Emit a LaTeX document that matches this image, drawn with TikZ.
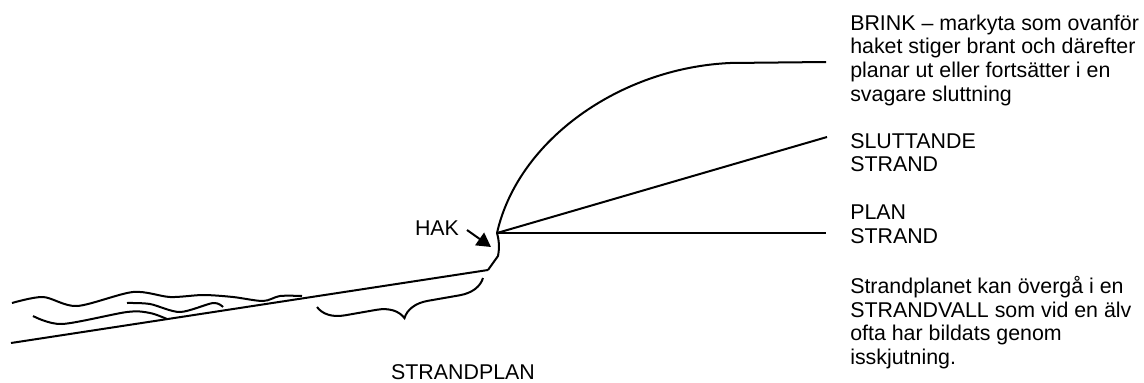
\documentclass[tikz,border=0pt]{standalone}
\usepackage{fontspec}
\setmainfont{Liberation Sans}
\usetikzlibrary{arrows.meta,decorations.pathreplacing}

\begin{document}
\begin{tikzpicture}[x=0.025cm,y=-0.025cm,
		strand/.style={line width=0.5mm},
		etikett/.style={font=\fontsize{15.2pt}{16.8pt}\selectfont, align=left, inner sep=0pt},
		pil/.style={line width=0.5mm, -{Triangle[length=0.35cm,width=0.38cm]}}]
			%%%%% START %%%%%
			\useasboundingbox (0,0) rectangle (1144,382);
			
			\coordinate (hav) at (11,343);
			\coordinate (fot) at (488,270);
			\coordinate (hak) at (497,233);
			\coordinate (brinkslut) at (826,62);
			\coordinate (sluttslut) at (827,137);
			\coordinate (planslut) at (826,233);
			
			\draw[strand] (hav) -- (fot);
			\draw[strand] (fot) -- (498,256) to[out=80,in=-75] (hak);
			\draw[strand] (hak) .. controls (518,140) and (620,68) .. (730,63) -- (brinkslut);
			\draw[strand] (hak) -- (sluttslut);
			\draw[strand] (hak) -- (planslut);
			
			\draw[strand] plot[smooth] coordinates {(12,303) (43,297) (77,306) (133,292) (170,297) (203,295) (233,297) (263,301) (280,296) (302,296)};
			\draw[strand] plot[smooth] coordinates {(127,303) (150,304) (180,312) (213,303) (223,307)};
			\draw[strand] plot[smooth] coordinates {(33,316) (62,324) (127,312) (150,313) (167,319)};
			
			\coordinate (klammerv) at (317,307);
			\coordinate (klammerh) at (483,278);
			\draw[strand, decorate, decoration={brace, mirror, amplitude=0.65cm, aspect=0.5}] (klammerv) -- (klammerh);
			\node[etikett] (strandplan) at (463,372) {STRANDPLAN};
			
			\node[etikett] (haktext) at (437,228) {HAK};
			\coordinate (pilstart) at (467,230);
			\coordinate (pilspets) at (491,247);
			\draw[pil] (pilstart) -- (pilspets);
			
			\node[etikett, anchor=north west] (brink) at (850,14.5) {BRINK – markyta som ovanför\\haket stiger brant och därefter\\planar ut eller fortsätter i en\\svagare sluttning};
			\node[etikett, anchor=north west] (slutt) at (850,133) {SLUTTANDE\\STRAND};
			\node[etikett, anchor=north west] (plan) at (850,205) {PLAN\\STRAND};
			\node[etikett, anchor=north west] (vall) at (850,276) {Strandplanet kan övergå i en\\STRANDVALL som vid en älv\\ofta har bildats genom\\isskjutning.};
			%%%%% END %%%%%
\end{tikzpicture}
\end{document}
